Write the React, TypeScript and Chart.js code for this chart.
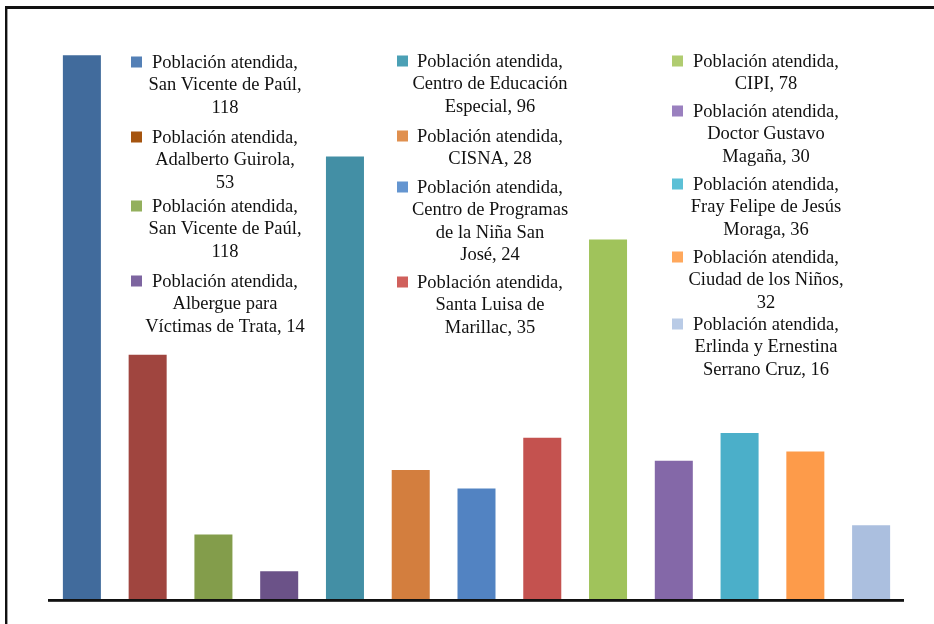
import React, { useEffect, useRef } from "react";
import { Chart, registerables } from "chart.js";

Chart.register(...registerables);

const categories = [
  "San Vicente de Paúl",
  "Adalberto Guirola",
  "San Vicente de Paúl (2)",
  "Albergue para Víctimas de Trata",
  "Centro de Educación Especial",
  "CISNA",
  "Centro de Programas de la Niña San José",
  "Santa Luisa de Marillac",
  "CIPI",
  "Doctor Gustavo Magaña",
  "Fray Felipe de Jesús Moraga",
  "Ciudad de los Niños",
  "Erlinda y Ernestina Serrano Cruz",
];

const values = [118, 53, 14, 6, 96, 28, 24, 35, 78, 30, 36, 32, 16];

const barColors = [
  "#416B9C", "#A0453F", "#839D4B", "#6B5288", "#438FA5", "#D37E3E", "#5283C2",
  "#C4524F", "#A0C35B", "#8468A8", "#4BAFC9", "#FD9B4A", "#ABBFDF",
];

const legendColors = [
  "#5480B6", "#A5540F", "#93B05D", "#7D65A0", "#4BA0B5", "#E0904F", "#6495D0",
  "#D0605C", "#B0CC70", "#9A80BF", "#5CC0D6", "#FFA85C", "#B9CBE6",
];

const legendTexts = [
  "Población atendida,\nSan Vicente de Paúl,\n118",
  "Población atendida,\nAdalberto Guirola,\n53",
  "Población atendida,\nSan Vicente de Paúl,\n118",
  "Población atendida,\nAlbergue para\nVíctimas de Trata, 14",
  "Población atendida,\nCentro de Educación\nEspecial, 96",
  "Población atendida,\nCISNA, 28",
  "Población atendida,\nCentro de Programas\nde la Niña San\nJosé, 24",
  "Población atendida,\nSanta Luisa de\nMarillac, 35",
  "Población atendida,\nCIPI, 78",
  "Población atendida,\nDoctor Gustavo\nMagaña, 30",
  "Población atendida,\nFray Felipe de Jesús\nMoraga, 36",
  "Población atendida,\nCiudad de los Niños,\n32",
  "Población atendida,\nErlinda y Ernestina\nSerrano Cruz, 16",
];

// legend layout: columns with marker x, text center x, and first-line baselines per entry
const legendColumns = [
  { markerX: 131, centerX: 225, entries: [0, 1, 2, 3], baselines: [68, 143, 212, 287] },
  { markerX: 397, centerX: 490, entries: [4, 5, 6, 7], baselines: [67, 142, 193, 288] },
  { markerX: 672, centerX: 766, entries: [8, 9, 10, 11, 12], baselines: [67, 117, 190, 263, 330] },
];

const LINE_H = 22.3;
const FONT = '18.5px "Liberation Serif", "DejaVu Serif", serif';

const decorPlugin = {
  id: "decor",
  afterDraw(chart: any) {
    const ctx = chart.ctx;
    ctx.save();
    // frame
    ctx.fillStyle = "#111";
    ctx.fillRect(5, 6, 2.4, 630);
    ctx.fillRect(5, 6, 940, 3);
    // baseline
    ctx.fillRect(48, 599, 856, 2.8);
    // legend
    ctx.font = FONT;
    ctx.textBaseline = "alphabetic";
    ctx.textAlign = "center";
    legendColumns.forEach((col) => {
      col.entries.forEach((idx, k) => {
        const base = col.baselines[k];
        ctx.fillStyle = legendColors[idx];
        ctx.fillRect(col.markerX, base - 11.5, 11, 11);
        ctx.fillStyle = "#111";
        legendTexts[idx].split("\n").forEach((line, li) => {
          ctx.fillText(line, col.centerX, base + li * LINE_H);
        });
      });
    });
    ctx.restore();
  },
};

export default function App() {
  const ref = useRef<HTMLCanvasElement>(null);
  useEffect(() => {
    if (!ref.current) return;
    let chart: Chart | null = null;
    let cancelled = false;
    const build = () => {
      if (cancelled || !ref.current) return;
      chart = new Chart(ref.current, {
        type: "bar",
        data: {
          labels: categories,
          datasets: [
            {
              label: "Población atendida",
              data: values,
              backgroundColor: barColors,
              borderWidth: 0,
              barPercentage: 0.578,
              categoryPercentage: 1,
            },
          ],
        },
        options: {
          responsive: false,
          animation: false,
          layout: { padding: { left: 49, right: 30, top: 46, bottom: 25 } },
          scales: {
            x: { display: false },
            y: { display: false, min: 0, max: 120 },
          },
          plugins: {
            legend: { display: false },
            tooltip: { enabled: false },
          },
        },
        plugins: [decorPlugin],
      });
    };
    const fonts = (document as any).fonts;
    if (fonts && fonts.load) {
      fonts.load(FONT, "Población").then(build, build);
    } else {
      build();
    }
    return () => {
      cancelled = true;
      if (chart) chart.destroy();
    };
  }, []);
  return (
    <div
      style={{
        position: "fixed",
        left: 0,
        top: 0,
        width: 934,
        height: 624,
        overflow: "hidden",
        background: "#fff",
        fontFamily: '"Liberation Serif", serif',
      }}
    >
      <canvas ref={ref} width={934} height={624} style={{ width: 934, height: 624, display: "block" }} />
    </div>
  );
}
